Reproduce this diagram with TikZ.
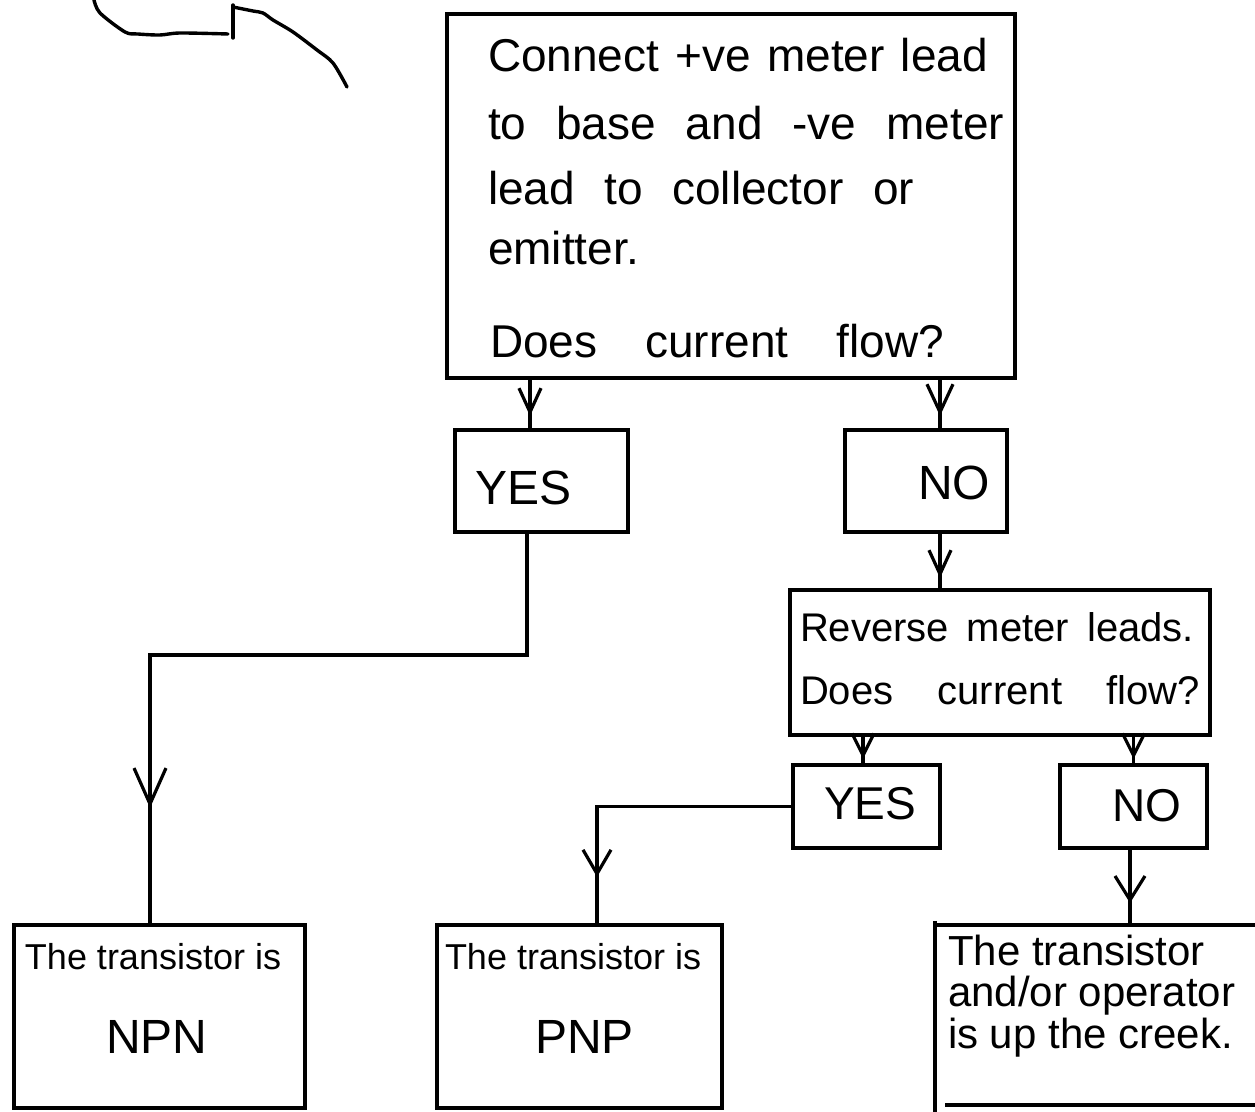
\documentclass[tikz,border=0pt]{standalone}
\usepackage{fontspec}
\setmainfont{Liberation Sans}
\usetikzlibrary{arrows.meta,decorations.markings}
\newcommand{\spreadline}[2]{\makebox[#1][s]{#2}}
\tikzset{
  box/.style={draw, rectangle, line width=1.7pt, inner sep=0pt, outer sep=0pt},
  conn/.style={line width=1.7pt},
  hand/.style={line width=1.7pt, line cap=round, line join=round},
  txt/.style={inner sep=0pt, outer sep=0pt, anchor=base west},
  bigfont/.style={font=\fontsize{23pt}{27pt}\selectfont},
  midfont/.style={font=\fontsize{20pt}{24pt}\selectfont},
  creekfont/.style={font=\fontsize{21pt}{25pt}\selectfont},
  smallfont/.style={font=\fontsize{18pt}{22pt}\selectfont},
  vmark/.style n args={3}{postaction={decorate}, decoration={markings,
      mark=at position #1 with {\arrow{Straight Barb[length=#2, width=#3, line width=1.6pt]}}}}
}
\begin{document}
\begin{tikzpicture}[x=0.5pt, y=-0.5pt]
\useasboundingbox (0,0) rectangle (1255,1112);

% fragment at top left
\draw[hand] plot[smooth] coordinates {(94,0) (100,13) (125,32) (138,34) (160,35) (180,33) (228,34)};
\draw[hand] (233,5) -- (233,38);
\draw[hand] plot[smooth] coordinates {(233,7) (253,11) (263,13) (273,20) (293,32) (317,50) (333,63) (347,87)};

% boxes
\node[box, minimum width=284pt, minimum height=182pt] (main) at (731,196) {};
\node[box, minimum width=86.5pt, minimum height=51pt] (yes) at (541.5,481) {};
\node[box, minimum width=81pt, minimum height=51pt] (no) at (926,481) {};
\node[box, minimum width=210pt, minimum height=72.5pt] (rev) at (1000,662.5) {};
\node[box, minimum width=73.5pt, minimum height=41.5pt] (yes2) at (866.5,806.5) {};
\node[box, minimum width=73.5pt, minimum height=41.5pt] (no2) at (1133.5,806.5) {};
\node[box, minimum width=145.5pt, minimum height=91.5pt] (npn) at (159.5,1016.5) {};
\node[box, minimum width=142.5pt, minimum height=91.5pt] (pnp) at (579.5,1016.5) {};
\node[rectangle, inner sep=0pt, outer sep=0pt, minimum width=160pt, minimum height=90pt] (creek) at (1095,1015) {};
\draw[conn] (creek.north west) -- (creek.north east);
\draw[conn] ([yshift=2pt]creek.north west) -- ([yshift=-4pt]creek.south west);
\draw[conn] ([xshift=5pt]creek.south west) -- (creek.south east);

% texts in main box
\node[txt, bigfont] (m1) at (488,72) {\spreadline{250pt}{Connect +ve meter lead}};
\node[txt, bigfont] (m2) at (488,140) {\spreadline{258pt}{to base and -ve meter}};
\node[txt, bigfont] (m3) at (488,205) {\spreadline{213pt}{lead to collector or}};
\node[txt, bigfont] (m4) at (488,265) {emitter.};
\node[txt, bigfont] (m5) at (490,358) {\spreadline{227pt}{Does current flow?}};

\node[txt, font=\fontsize{24pt}{28pt}\selectfont] (tyes) at (475,505) {YES};
\node[txt, font=\fontsize{24pt}{28pt}\selectfont] (tno) at (918,500) {NO};

\node[txt, midfont] (r1) at (800,642) {\spreadline{197pt}{Reverse meter leads.}};
\node[txt, midfont] (r2) at (800,705) {\spreadline{200pt}{Does current flow?}};

\node[txt, bigfont] (tyes2) at (824,820) {YES};
\node[txt, bigfont] (tno2) at (1112,822) {NO};

\node[txt, smallfont] (n1) at (25,970) {The transistor is};
\node[txt, font=\fontsize{24pt}{28pt}\selectfont] (n2) at (106,1053) {NPN};
\node[txt, smallfont] (p1) at (445,970) {The transistor is};
\node[txt, font=\fontsize{24pt}{28pt}\selectfont] (p2) at (535,1053) {PNP};

\node[txt, creekfont] (c1) at (948,965) {The transistor};
\node[txt, creekfont] (c2) at (948,1007) {and/or operator};
\node[txt, creekfont] (c3) at (948,1049) {is up the creek.};

% connector end points
\path (yes.north) ++(-11.5,0) coordinate (yesin);
\path (no.north) ++(14,0) coordinate (noin);
\path (yes.south) ++(-14.5,0) coordinate (yesout);
\path (npn.north) ++(-9.5,0) coordinate (npnin);
\coordinate (bend1) at (150,655);
\path (no.south) ++(14,0) coordinate (noout);
\path (yes2.north) ++(-3.5,0) coordinate (yes2in);
\path (pnp.north) ++(17.5,0) coordinate (pnpin);
\path (no2.south) ++(-3.5,0) coordinate (no2out);

% connectors
\draw[conn, vmark={-7pt}{12pt}{11pt}] (main.south -| yesin) -- (yesin);
\draw[conn, vmark={-7pt}{14pt}{13pt}] (main.south -| noin) -- (noin);
\draw[conn, vmark={-58.5pt}{18pt}{16pt}] (yesout) |- (bend1) -- (npnin);
\draw[conn, vmark={-6pt}{12pt}{11pt}] (noout) -- (rev.north -| noout);
\draw[conn, vmark={-3pt}{11pt}{11pt}] (rev.south -| yes2in) -- (yes2in);
\draw[conn, vmark={-3pt}{11pt}{11pt}] (rev.south -| no2.north) -- (no2.north);
\draw[conn, vmark={-24pt}{12pt}{14pt}] (yes2.west) -| (pnpin);
\draw[conn, vmark={-11pt}{12pt}{15pt}] (no2out) -- (creek.north -| no2out);
\end{tikzpicture}
\end{document}
